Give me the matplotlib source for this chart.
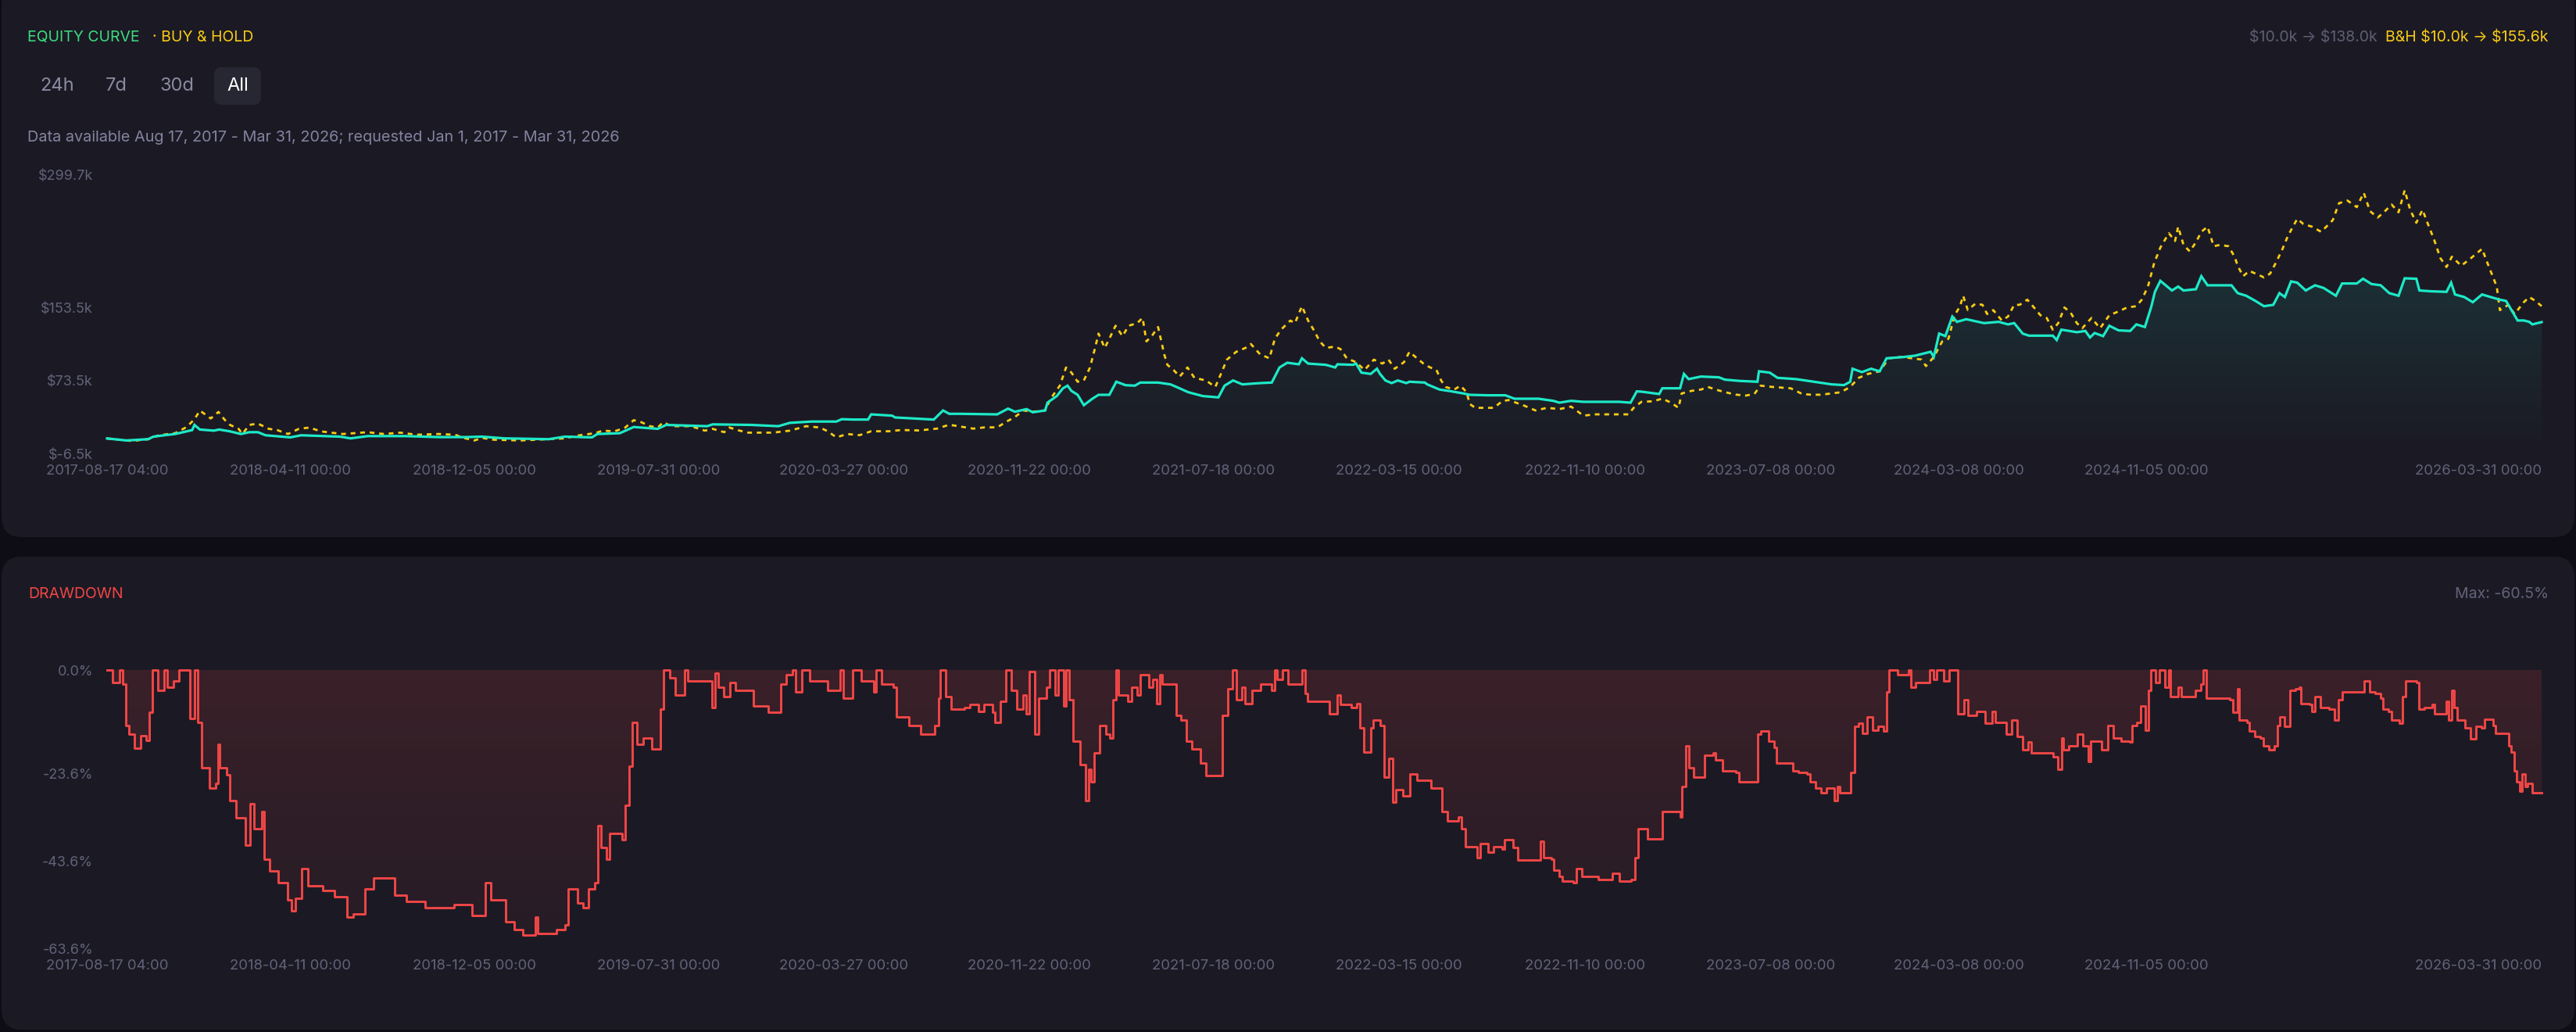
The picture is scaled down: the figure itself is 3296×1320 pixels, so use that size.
import numpy as np
import matplotlib
matplotlib.use('Agg')
import matplotlib.pyplot as plt
import matplotlib.dates as mdates
from matplotlib.patches import FancyBboxPatch
from matplotlib.transforms import IdentityTransform

plt.rcParams['font.family'] = ['Inter', 'DejaVu Sans']

# ---- data (days since 2017-08-17 04:00) ----
start = np.datetime64('2017-08-17T04:00')

strat_days = [0, 25, 53, 60, 74, 88, 103, 110, 113, 120, 138, 145, 159, 173, 184, 195, 205, 237, 251, 301,
              315, 337, 386, 429, 464, 485, 514, 571, 592, 627, 634, 663, 681, 712, 723, 776, 783, 833, 868, 883,
              911, 943, 950, 965, 984, 988, 1015, 1019, 1039, 1069, 1081, 1089, 1104, 1151, 1165, 1174, 1189, 1197,
              1213, 1216, 1228, 1236, 1242, 1247, 1255, 1263, 1274, 1282, 1296, 1305, 1317, 1329, 1336, 1359, 1375,
              1383, 1398, 1417, 1437, 1445, 1456, 1468, 1491, 1506, 1516, 1526, 1541, 1545, 1553, 1576, 1588, 1591,
              1611, 1615, 1622, 1634, 1642, 1646, 1653, 1661, 1669, 1680, 1684, 1704, 1707, 1723, 1735, 1754, 1762,
              1785, 1808, 1820, 1851, 1870, 1878, 1893, 1909, 1955, 1970, 1978, 1984, 2007, 2011, 2034, 2039, 2045,
              2061, 2084, 2092, 2111, 2134, 2136, 2150, 2160, 2184, 2207, 2230, 2246, 2254, 2257, 2269, 2281, 2292,
              2301, 2323, 2338, 2358, 2362, 2369, 2377, 2386, 2392, 2404, 2427, 2446, 2458, 2466, 2477, 2485, 2516,
              2521, 2527, 2547, 2558, 2564, 2570, 2581, 2589, 2601, 2616, 2624, 2635, 2643, 2648, 2655, 2662, 2670,
              2678, 2685, 2701, 2708, 2716, 2747, 2755, 2766, 2778, 2789, 2801, 2809, 2816, 2824, 2832, 2843, 2855,
              2866, 2882, 2890, 2909, 2917, 2928, 2940, 2951, 2963, 2971, 2986, 2990, 3005, 3025, 3031, 3036, 3048,
              3059, 3071, 3082, 3094, 3102, 3109, 3117, 3125, 3132, 3136, 3148]
strat_vals = [10.0, 7.8, 9.2, 12.0, 13.5, 14.9, 17.8, 19.2, 24.9, 19.8, 18.6, 19.8, 17.8, 14.9, 16.9, 16.9, 13.5,
              11.2, 13.5, 12.0, 10.1, 12.6, 12.6, 11.5, 11.5, 12.0, 10.1, 9.2, 12.0, 11.2, 14.9, 15.8, 22.6, 20.6,
              24.9, 23.5, 25.5, 24.9, 23.5, 27.2, 28.6, 28.6, 31.2, 30.8, 30.8, 36.5, 35.1, 33.1, 32.2, 30.8, 40.8,
              37.1, 37.1, 36.5, 42.8, 39.4, 42.3, 38.8, 40.8, 49.4, 56.6, 65.2, 68.1, 62.3, 58.0, 46.6, 53.7, 58.0,
              58.0, 72.4, 68.6, 68.1, 71.5, 71.5, 69.5, 66.6, 60.9, 56.6, 55.2, 68.1, 73.8, 69.5, 70.9, 71.5, 88.1,
              93.3, 91.6, 98.2, 92.4, 91.0, 88.1, 91.6, 91.0, 92.4, 82.4, 81.0, 86.7, 81.0, 73.8, 70.9, 73.8, 70.9,
              72.4, 71.5, 69.5, 63.8, 62.3, 59.5, 58.0, 57.5, 57.5, 53.7, 53.7, 51.4, 49.4, 51.4, 50.3, 50.3, 49.4,
              61.8, 61.5, 58.9, 65.2, 65.2, 81.0, 75.3, 78.1, 77.3, 74.7, 73.3, 72.4, 83.9, 82.4, 76.7, 75.3, 72.4,
              69.5, 68.7, 72.4, 86.7, 83.0, 86.7, 83.9, 98.2, 99.6, 101.1, 105.4, 99.6, 125.4, 122.6, 144.1, 138.3,
              141.2, 136.9, 138.3, 135.5, 136.9, 125.4, 123.1, 123.1, 118.3, 129.7, 126.9, 128.3, 121.1, 126.0,
              122.6, 134.0, 128.9, 128.3, 135.5, 132.6, 154.1, 171.3, 183.4, 178.5, 172.8, 177.1, 172.8, 174.2,
              188.5, 178.5, 178.5, 169.9, 167.0, 161.3, 155.5, 157.0, 169.9, 165.6, 182.8, 181.4, 172.8, 178.5,
              175.6, 167.0, 180.5, 180.5, 185.7, 179.9, 178.5, 169.9, 167.0, 186.2, 185.7, 172.8, 171.9, 171.3,
              181.4, 168.4, 165.6, 159.9, 168.4, 165.6, 162.7, 161.3, 151.2, 139.8, 139.8, 138.3, 135.5, 138.0]

bh_days = [0, 32, 53, 67, 88, 103, 113, 120, 127, 134, 144, 152, 159, 170, 175, 184, 195, 209, 220, 234, 248, 262,
           276, 305, 337, 358, 379, 400, 429, 450, 461, 475, 485, 500, 535, 571, 592, 606, 631, 641, 656, 670, 681,
           691, 702, 712, 719, 730, 755, 773, 783, 798, 805, 815, 829, 861, 883, 904, 922, 932, 943, 957, 973, 988,
           1011, 1027, 1050, 1073, 1089, 1100, 1120, 1135, 1151, 1162, 1174, 1185, 1197, 1213, 1220, 1232, 1240,
           1247, 1255, 1263, 1271, 1278, 1282, 1290, 1296, 1304, 1313, 1321, 1332, 1339, 1344, 1352, 1359, 1367,
           1371, 1379, 1387, 1397, 1406, 1421, 1433, 1441, 1448, 1460, 1472, 1479, 1491, 1503, 1510, 1518, 1530,
           1536, 1545, 1553, 1561, 1568, 1576, 1588, 1595, 1603, 1615, 1626, 1638, 1649, 1657, 1665, 1677, 1684,
           1692, 1704, 1711, 1719, 1725, 1731, 1742, 1750, 1758, 1762, 1769, 1781, 1793, 1804, 1812, 1831, 1847,
           1862, 1878, 1893, 1909, 1924, 1947, 1967, 1974, 1984, 1999, 2011, 2022, 2032, 2036, 2049, 2061, 2070,
           2080, 2092, 2107, 2119, 2130, 2138, 2153, 2177, 2192, 2204, 2215, 2230, 2242, 2254, 2265, 2277, 2292,
           2304, 2319, 2335, 2346, 2352, 2362, 2373, 2381, 2389, 2396, 2400, 2406, 2416, 2425, 2431, 2439, 2450,
           2458, 2466, 2473, 2483, 2493, 2500, 2508, 2516, 2523, 2531, 2539, 2547, 2554, 2566, 2577, 2589, 2601,
           2612, 2624, 2631, 2639, 2647, 2655, 2666, 2674, 2678, 2685, 2693, 2701, 2708, 2716, 2724, 2732, 2743,
           2751, 2755, 2762, 2770, 2782, 2789, 2797, 2805, 2813, 2820, 2832, 2840, 2851, 2863, 2878, 2886, 2897,
           2909, 2918, 2926, 2936, 2944, 2954, 2963, 2971, 2978, 2986, 2994, 3001, 3009, 3017, 3025, 3032, 3044,
           3055, 3071, 3078, 3090, 3094, 3105, 3113, 3125, 3132, 3140, 3148]
bh_vals = [10.0, 7.2, 9.2, 13.5, 15.8, 22.6, 31.2, 40.6, 36.4, 32.0, 39.2, 30.6, 24.9, 20.6, 14.9, 24.9, 26.4, 20.6,
           19.2, 14.9, 20.6, 22.0, 17.8, 14.9, 16.9, 14.9, 16.4, 14.1, 14.9, 14.1, 10.6, 7.8, 10.6, 8.6, 7.8, 9.2,
           10.1, 12.9, 15.8, 18.6, 17.8, 22.0, 30.1, 27.8, 23.5, 22.0, 27.8, 23.5, 23.5, 18.6, 20.6, 16.9, 22.0,
           19.2, 16.4, 16.4, 18.6, 23.5, 22.0, 17.8, 11.2, 14.9, 13.6, 17.9, 17.9, 19.3, 18.8, 20.8, 25.1, 23.6,
           20.8, 22.2, 22.2, 28.0, 33.7, 40.8, 39.4, 40.8, 53.7, 68.1, 88.1, 82.4, 72.4, 73.8, 88.1, 111.1, 125.4,
           109.6, 119.7, 134.0, 122.6, 134.0, 136.9, 142.6, 116.8, 124.0, 132.6, 102.5, 91.0, 85.3, 78.1, 88.1,
           76.7, 73.8, 66.6, 82.4, 96.7, 105.3, 109.6, 113.9, 102.5, 98.2, 119.7, 129.7, 139.7, 136.9, 155.5,
           139.7, 128.3, 116.8, 109.6, 111.1, 108.2, 98.2, 93.9, 85.3, 96.7, 92.4, 96.7, 86.7, 93.9, 105.3, 99.6,
           91.0, 88.1, 85.3, 73.8, 66.6, 63.8, 68.1, 60.9, 48.0, 43.7, 43.7, 43.7, 50.9, 52.3, 46.6, 40.8, 43.7,
           42.3, 45.1, 35.1, 36.5, 36.5, 36.5, 43.7, 50.3, 50.9, 53.8, 49.5, 43.7, 59.5, 62.4, 63.8, 66.7, 63.8,
           60.9, 58.1, 57.2, 58.9, 68.1, 66.7, 65.2, 58.9, 58.1, 58.1, 59.5, 60.9, 66.7, 76.7, 81.0, 83.9, 98.2,
           99.6, 98.2, 96.8, 89.6, 99.6, 116.8, 119.7, 145.5, 155.5, 167.0, 151.2, 158.4, 157.0, 146.9, 151.2,
           139.8, 144.1, 157.0, 157.0, 162.7, 152.7, 145.5, 142.6, 129.7, 136.9, 154.1, 148.4, 136.9, 131.2,
           142.6, 131.2, 145.5, 149.8, 154.1, 155.5, 162.7, 177.1, 202.9, 220.0, 235.8, 227.2, 243.0, 222.9,
           215.8, 225.8, 237.3, 243.0, 221.5, 222.9, 221.5, 210.0, 200.0, 188.5, 194.3, 190.0, 187.1, 191.4,
           204.3, 218.6, 232.9, 251.6, 245.9, 243.0, 237.3, 250.2, 268.8, 271.7, 264.5, 280.3, 260.2, 253.0,
           258.8, 267.4, 258.8, 283.1, 261.6, 247.3, 261.6, 245.9, 228.7, 208.6, 198.6, 210.0, 200.0, 207.2,
           218.6, 202.9, 177.1, 151.2, 157.0, 146.9, 159.9, 165.6, 161.3, 155.6]

dd_days = [0, 7, 16, 20, 24, 28, 35, 43, 51, 55, 59, 66, 74, 78, 86, 93, 105, 107, 113, 117, 122, 132, 140, 144,
           146, 155, 159, 167, 179, 185, 190, 200, 203, 210, 221, 233, 238, 244, 252, 260, 279, 294, 310, 318, 333,
           345, 372, 387, 411, 449, 472, 489, 496, 515, 527, 538, 554, 557, 581, 592, 596, 608, 615, 623, 631, 635,
           639, 646, 650, 666, 670, 675, 679, 685, 693, 704, 712, 716, 720, 728, 735, 747, 751, 778, 782, 786, 790,
           797, 805, 813, 832, 836, 855, 867, 871, 878, 886, 890, 898, 909, 932, 948, 952, 964, 975, 991, 994, 1002,
           1017, 1021, 1037, 1052, 1070, 1075, 1077, 1084, 1091, 1109, 1116, 1127, 1134, 1145, 1148, 1155, 1162,
           1169, 1176, 1184, 1188, 1193, 1200, 1205, 1215, 1219, 1226, 1230, 1237, 1240, 1244, 1249, 1258, 1265,
           1269, 1272, 1276, 1283, 1292, 1297, 1301, 1305, 1308, 1320, 1325, 1332, 1336, 1347, 1352, 1357, 1361,
           1364, 1379, 1382, 1389, 1396, 1403, 1414, 1421, 1439, 1442, 1449, 1455, 1460, 1467, 1471, 1478, 1481,
           1492, 1506, 1510, 1513, 1520, 1527, 1542, 1545, 1549, 1552, 1577, 1581, 1591, 1595, 1609, 1616, 1620,
           1625, 1634, 1637, 1646, 1651, 1657, 1662, 1666, 1676, 1685, 1694, 1708, 1712, 1725, 1726, 1733, 1747,
           1751, 1756, 1772, 1776, 1786, 1793, 1804, 1807, 1818, 1824, 1850, 1853, 1857, 1868, 1871, 1878, 1882,
           1896, 1900, 1907, 1928, 1946, 1956, 1971, 1976, 1980, 1992, 2008, 2011, 2034, 2036, 2041, 2045, 2052,
           2063, 2066, 2077, 2080, 2089, 2106, 2110, 2131, 2134, 2138, 2149, 2156, 2159, 2177, 2180, 2187, 2198,
           2202, 2209, 2216, 2223, 2233, 2237, 2240, 2251, 2255, 2260, 2265, 2270, 2276, 2283, 2290, 2297, 2301,
           2304, 2315, 2329, 2332, 2339, 2353, 2357, 2362, 2366, 2375, 2382, 2393, 2401, 2406, 2417, 2428, 2438,
           2442, 2456, 2463, 2470, 2477, 2484, 2488, 2509, 2516, 2522, 2527, 2530, 2537, 2548, 2555, 2562, 2565,
           2579, 2587, 2594, 2604, 2615, 2618, 2625, 2630, 2636, 2640, 2643, 2649, 2654, 2661, 2666, 2668, 2678,
           2682, 2696, 2700, 2707, 2710, 2714, 2745, 2749, 2755, 2757, 2767, 2770, 2777, 2784, 2788, 2795, 2802,
           2806, 2809, 2816, 2823, 2830, 2835, 2837, 2848, 2851, 2855, 2862, 2873, 2880, 2885, 2890, 2912, 2919,
           2926, 2933, 2940, 2943, 2950, 2954, 2964, 2968, 2972, 2986, 2989, 2996, 3007, 3010, 3021, 3025, 3028,
           3032, 3035, 3039, 3049, 3056, 3063, 3070, 3074, 3085, 3088, 3102, 3106, 3109, 3113, 3116, 3120, 3123,
           3127, 3130, 3136, 3148]
dd_vals = [0, -2.9, 0, -3.2, -12.6, -14.7, -17.8, -15.0, -16.0, -9.7, 0, -4.7, 0, -4.0, -2.5, 0, 0, -11.0, 0,
           -12.0, -22.3, -27.0, -25.9, -17.0, -22.3, -24.0, -29.9, -33.8, -40.0, -30.6, -36.3, -32.4, -43.2, -46.0,
           -48.6, -52.5, -55.0, -52.2, -45.3, -49.3, -50.4, -51.8, -56.5, -55.8, -50.0, -47.5, -51.4, -52.9, -54.3,
           -53.6, -56.1, -48.6, -52.5, -57.6, -59.4, -60.5, -56.5, -60.2, -59.4, -58.3, -50.0, -53.2, -54.3, -50.0,
           -48.6, -35.6, -40.6, -43.2, -37.4, -38.8, -30.9, -21.9, -11.9, -16.9, -15.5, -18.0, -18.0, -9.0, 0, -1.8,
           -5.8, 0, -2.5, -2.5, -8.6, -0.7, -4.0, -6.1, -2.9, -4.7, -4.7, -8.3, -9.7, -9.7, -3.2, -1.1, 0, -5.0, 0,
           -2.5, -4.7, 0, -6.5, 0, -2.5, -5.0, 0, -3.2, -4.0, -10.8, -12.6, -14.7, -12.6, -6.5, 0, -6.1, -9.0, -8.6,
           -7.9, -9.4, -7.9, -9.7, -11.9, -7.2, 0, -4.7, -9.0, -5.8, -10.0, -0.4, -14.7, -6.5, -4.0, 0, -5.8, 0,
           -8.3, 0, -6.8, -16.2, -21.6, -29.9, -22.7, -25.5, -19.0, -12.6, -14.7, -15.5, -6.8, 0, -5.8, -7.2, -4.0,
           -5.8, -1.1, -4.0, -2.2, -7.6, -1.1, -3.2, -3.2, -10.4, -11.5, -16.2, -18.0, -21.2, -24.1, -24.1, -10.4,
           -4.3, 0, -6.8, -4.0, -7.6, -7.6, -4.7, -3.2, -4.7, 0, -2.2, 0, -3.2, -3.2, 0, -5.4, -7.2, -7.2, -10.0,
           -5.8, -7.9, -8.6, -7.6, -13.3, -18.7, -13.3, -11.5, -12.6, -24.5, -20.1, -30.2, -27.3, -28.8, -23.7,
           -25.2, -25.2, -27.0, -27.0, -32.4, -34.5, -33.5, -36.3, -40.3, -42.8, -39.6, -41.7, -40.3, -41.0, -38.8,
           -40.6, -43.5, -43.5, -39.2, -42.8, -43.2, -45.7, -47.1, -48.2, -48.6, -45.3, -47.1, -47.8, -46.4, -48.2,
           -47.8, -42.8, -36.3, -38.5, -38.5, -32.4, -33.5, -26.6, -17.3, -22.3, -24.5, -24.5, -19.4, -19.0, -20.5,
           -23.0, -23.4, -25.5, -25.5, -14.7, -14.0, -16.2, -17.6, -21.2, -21.2, -23.0, -23.4, -23.7, -25.5, -27.0,
           -28.0, -27.0, -29.9, -26.6, -28.0, -28.0, -23.4, -12.9, -12.2, -14.4, -10.8, -13.7, -12.9, -14.0, -5.0,
           0, -1.1, 0, -4.0, -2.9, -2.9, 0, -2.2, 0, -2.5, 0, -10.0, -6.8, -10.4, -9.4, -12.2, -9.4, -11.9, -14.7,
           -11.5, -15.1, -18.3, -16.5, -19.0, -19.0, -19.8, -22.7, -15.5, -18.3, -17.3, -14.7, -17.3, -20.9, -16.2,
           -18.3, -12.6, -15.5, -16.2, -16.5, -12.6, -11.9, -8.3, -13.7, -4.7, 0, -2.9, 0, -4.0, 0, -6.1, -4.0,
           -6.1, -6.1, -4.7, -3.2, 0, -6.5, -6.8, -9.7, -4.3, -11.5, -11.9, -14.0, -15.1, -15.5, -17.3, -18.3,
           -17.3, -12.6, -10.8, -12.9, -4.7, -4.3, -4.0, -7.6, -7.9, -9.4, -6.1, -8.6, -9.0, -11.5, -6.8, -5.0,
           -5.0, -2.5, -5.0, -5.4, -6.5, -9.0, -9.4, -11.5, -12.2, -6.1, -2.5, -2.9, -9.0, -8.6, -7.9, -10.0,
           -10.0, -7.2, -11.5, -4.7, -8.6, -11.5, -13.3, -15.8, -12.9, -13.3, -11.2, -12.6, -14.4, -14.4, -17.3,
           -18.7, -23.0, -25.5, -27.7, -23.7, -26.6, -25.9, -28.0, -28.0]

tick_dates = ['2017-08-17 04:00', '2018-04-11 00:00', '2018-12-05 00:00', '2019-07-31 00:00', '2020-03-27 00:00',
              '2020-11-22 00:00', '2021-07-18 00:00', '2022-03-15 00:00', '2022-11-10 00:00', '2023-07-08 00:00',
              '2024-03-08 00:00', '2024-11-05 00:00', '2026-03-31 00:00']
eq_ticks = [-6.5, 73.5, 153.5, 299.7]
dd_ticks = [0.0, -23.6, -43.6, -63.6]

# ---- colours ----
BG = '#0e0d15'
CARD = '#1b1a24'
MUTED = '#62627a'
GREEN = '#3ddc7f'
YELLOW = '#facc15'
CYAN = '#1de9c8'
RED = '#f04646'

W, H = 3296, 1320


def to_dates(days):
    return start + (np.asarray(days) * 1440).astype('timedelta64[m]')


def fx(px):
    return px / W


def fy(py):
    return 1 - py / H


fig = plt.figure(figsize=(W / 100, H / 100), dpi=100, facecolor=BG)

# cards (pixel coords, origin bottom-left)
for x0, y0, x1, y1 in [(2, 633, 3294, 1340), (2, 3, 3294, 608)]:
    fig.add_artist(FancyBboxPatch((x0, y0), x1 - x0, y1 - y0, boxstyle='round,pad=0,rounding_size=26',
                                  transform=IdentityTransform(), facecolor=CARD, edgecolor='none', zorder=0))

# header texts
fig.text(fx(35), fy(48), 'EQUITY CURVE', color=GREEN, fontsize=14, va='center', ha='left')
fig.text(fx(195), fy(48), '· BUY & HOLD', color=YELLOW, fontsize=14, va='center', ha='left')
fig.text(fx(3042), fy(48), '$10.0k → $138.0k', color='#5e5e74', fontsize=14, va='center', ha='right',
         parse_math=False)
fig.text(fx(3261), fy(48), 'B&H $10.0k → $155.6k', color=YELLOW, fontsize=14, va='center', ha='right',
         parse_math=False)

fig.add_artist(FancyBboxPatch((274, H - 134), 60, 48, boxstyle='round,pad=0,rounding_size=10',
                              transform=IdentityTransform(), facecolor='#272633', edgecolor='none', zorder=1))
for label, cx, col in [('24h', 73, '#8a8aa0'), ('7d', 149, '#8a8aa0'), ('30d', 226, '#8a8aa0'), ('All', 304, '#ffffff')]:
    fig.text(fx(cx), fy(110), label, color=col, fontsize=17, va='center', ha='center', zorder=2)

fig.text(fx(35), fy(176), 'Data available Aug 17, 2017 - Mar 31, 2026; requested Jan 1, 2017 - Mar 31, 2026',
         color='#8383a0', fontsize=14.3, va='center', ha='left')

fig.text(fx(36), fy(760), 'DRAWDOWN', color=RED, fontsize=14, va='center', ha='left')
fig.text(fx(3261), fy(760), 'Max: -60.5%', color=MUTED, fontsize=14, va='center', ha='right')

# ---- axes ----
ax1 = fig.add_axes([fx(137), fy(580), fx(3115), 356 / H])
ax2 = fig.add_axes([fx(137), fy(1213), fx(3115), 356 / H])

x_s = to_dates(strat_days)
x_b = to_dates(bh_days)
x_d = to_dates(dd_days)
x0 = mdates.date2num(start)
x1 = mdates.date2num(to_dates([3148])[0])

# equity gradient fill
grad = np.zeros((256, 1, 4))
grad[..., 0], grad[..., 1], grad[..., 2] = 0.11, 0.91, 0.78
grad[:, 0, 3] = np.linspace(0.0, 0.17, 256)
poly = ax1.fill_between(x_s, strat_vals, -6.5, color='none', lw=0)
img = ax1.imshow(grad, extent=[x0, x1, -6.5, 299.7], origin='lower', aspect='auto', zorder=1)
img.set_clip_path(poly.get_paths()[0], transform=ax1.transData)

ax1.plot(x_b, bh_vals, color=YELLOW, lw=2.0, ls=(0, (2.2, 2.2)), zorder=3, clip_on=False)
ax1.plot(x_s, strat_vals, color=CYAN, lw=2.3, zorder=4, clip_on=False, solid_joinstyle='miter')
ax1.set_ylim(-6.5, 299.7)

# drawdown gradient fill
grad2 = np.zeros((256, 1, 4))
grad2[..., 0], grad2[..., 1], grad2[..., 2] = 0.94, 0.27, 0.27
grad2[:, 0, 3] = np.linspace(0.05, 0.15, 256)
poly2 = ax2.fill_between(x_d, dd_vals, 0, step='post', color='none', lw=0)
img2 = ax2.imshow(grad2, extent=[x0, x1, -63.6, 0], origin='lower', aspect='auto', zorder=1)
img2.set_clip_path(poly2.get_paths()[0], transform=ax2.transData)
ax2.plot(x_d, dd_vals, color=RED, lw=2.1, drawstyle='steps-post', zorder=3, clip_on=False)
ax2.set_ylim(-63.6, 0)

ticks = [np.datetime64(t.replace(' ', 'T')) for t in tick_dates]
for ax, yt, fmt in [(ax1, eq_ticks, '${:.1f}k'), (ax2, dd_ticks, '{:.1f}%')]:
    ax.set_facecolor('none')
    for s in ax.spines.values():
        s.set_visible(False)
    ax.set_xlim(x0, x1)
    ax.set_yticks(yt, [fmt.format(v) for v in yt])
    ax.set_xticks(ticks)
    ax.xaxis.set_major_formatter(mdates.DateFormatter('%Y-%m-%d %H:%M'))
    ax.tick_params(axis='y', length=0, pad=13, labelsize=13, labelcolor=MUTED)
    ax.tick_params(axis='x', length=0, pad=10, labelsize=13.3, labelcolor=MUTED)
    ax.grid(False)

fig.canvas.draw()
for ax in (ax1, ax2):
    ax.get_xticklabels()[-1].set_ha('right')

fig.savefig('out.png', dpi=100, facecolor=BG)
